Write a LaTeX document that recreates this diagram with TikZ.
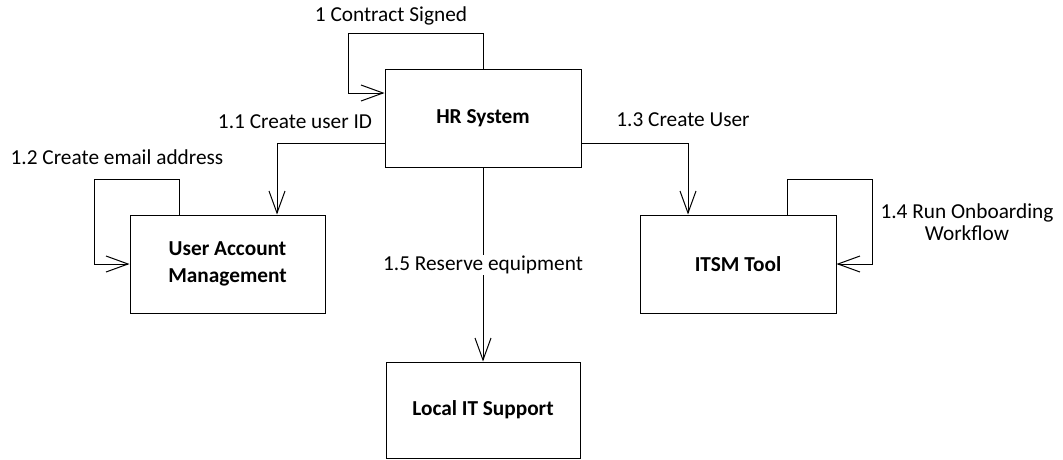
\documentclass[tikz,border=0pt]{standalone}
\usepackage{fontspec}
\setmainfont{Carlito}
\usetikzlibrary{arrows.meta, positioning}
\tikzset{
  sysbox/.style={rectangle,draw,line width=1pt,align=center,font=\fontsize{21.3}{27}\selectfont\bfseries,minimum width=196pt,minimum height=98pt,inner sep=0pt},
  msg/.style={align=center,inner sep=1pt,font=\fontsize{21.3}{22}\selectfont},
  line/.style={line width=1pt,-{Straight Barb[length=22pt,width=16pt]}}
}

\begin{document}
\begin{tikzpicture}[x=1pt,y=-1pt]
\useasboundingbox (0,0) rectangle (1063,459);
\node[sysbox] (hr) at (483,118) {HR System};
\node[sysbox, minimum width=195pt] (uam) at (227.5,264) {User Account\\Management};
\node[sysbox] (itsm) at (738,264) {ITSM Tool};
\node[sysbox, minimum width=194pt, minimum height=96pt] (lits) at (483,410) {Local IT Support};
% self messages
\draw[line] (hr.north) |- (348,33) |- ([yshift=25pt]hr.west);
\draw[line] ([xshift=-48.5pt]uam.north) |- (94,179) |- (uam.west);
\draw[line] ([xshift=49pt]itsm.north) |- (872,179) |- (itsm.east);
% calls from HR
\draw[line] ([yshift=-25pt]hr.west) -| ([xshift=49.5pt]uam.north);
\draw[line] ([yshift=-25pt]hr.east) -| ([xshift=-50pt]itsm.north);
\draw[line] (hr.south) -- (lits.north);
% labels
\node[msg] (m1) at (391,16) {1 Contract Signed};
\node[msg] (m11) at (295,122) {1.1 Create user ID};
\node[msg] (m12) at (117,157) {1.2 Create email address};
\node[msg] (m13) at (683,120) {1.3 Create User};
\node[msg] (m14) at (967,222) {1.4 Run Onboarding\\Workflow};
\node[msg, fill=white] (m15) at (483,265) {1.5 Reserve equipment};
\end{tikzpicture}
\end{document}
